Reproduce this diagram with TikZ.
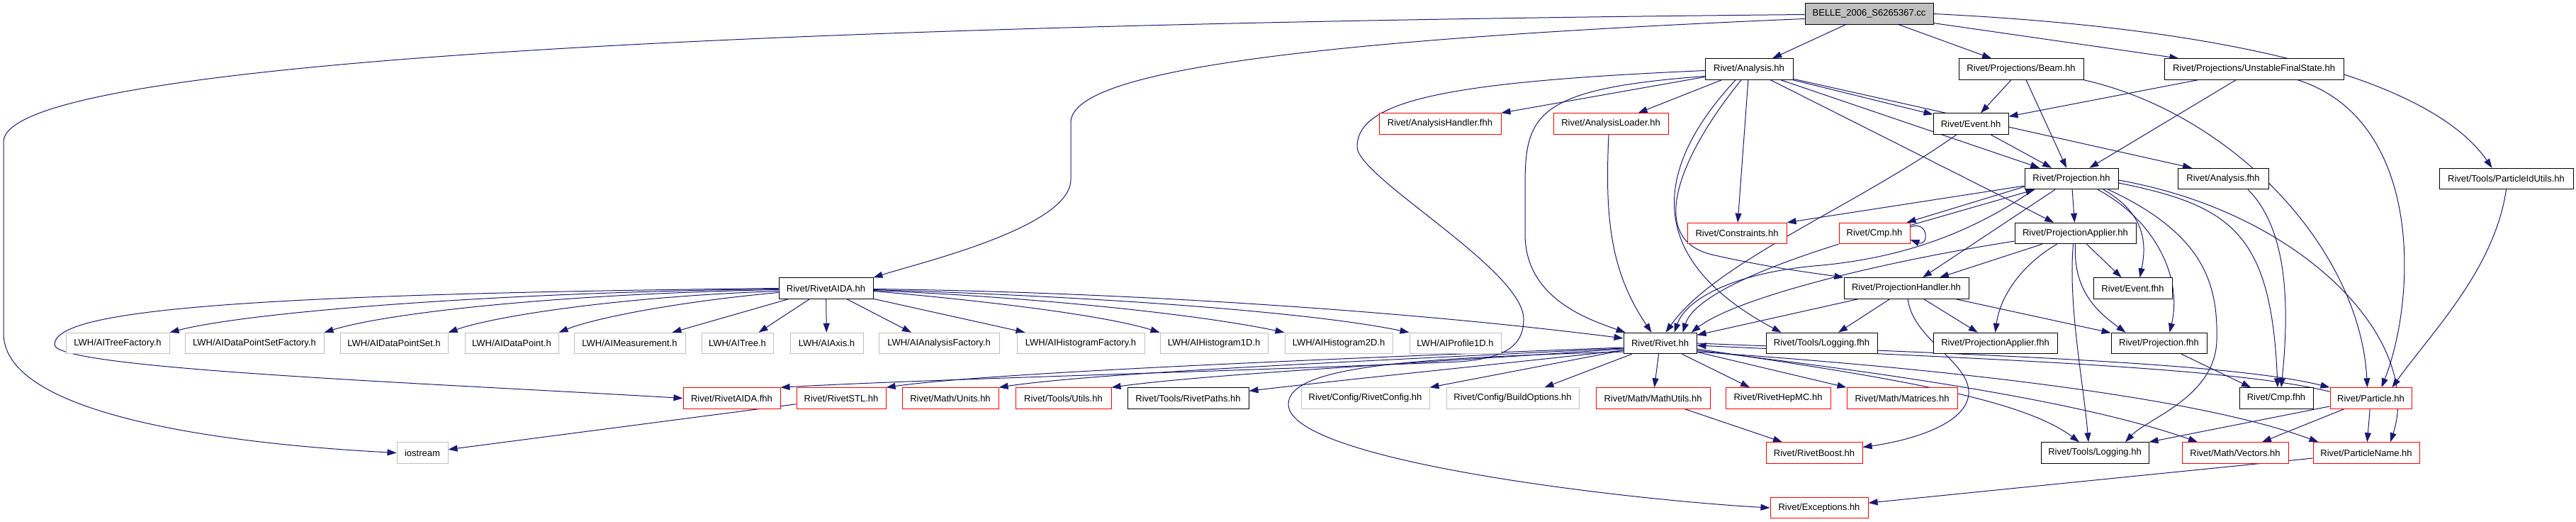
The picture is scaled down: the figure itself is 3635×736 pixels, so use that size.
\documentclass[tikz,border=0pt]{standalone}
\usepackage{fontspec}
\setmainfont{Liberation Sans}
\usepackage{xcolor}
\usepackage{tikz}
\usetikzlibrary{arrows.meta,calc}

\definecolor{incblue}{RGB}{25,25,112}
\definecolor{extgrey}{RGB}{191,191,191}
\pgfdeclarelayer{edges}
\pgfsetlayers{edges,main}

\tikzset{
  filebox/.style={draw=black,line width=1pt,fill=white,minimum height=29.5pt,inner sep=0pt,font=\fontsize{13}{15}\selectfont},
  redbox/.style={filebox,draw=red},
  extbox/.style={filebox,draw=extgrey},
  inc/.style={draw=incblue,line width=1pt,-{Triangle[length=13pt,width=9pt]}}
}

\begin{document}
\begin{tikzpicture}[x=1pt,y=1pt,yscale=-1,xscale=1]
\useasboundingbox (0,0) rectangle (3635,736);

% Source file
\node[filebox,fill=extgrey,minimum width=181pt] (belle) at (2637.5,19.5) {BELLE\_2006\_S6265367.cc};
% Row 1
\node[filebox,minimum width=124pt] (analysis) at (2468,97.5) {Rivet/Analysis.hh};
\node[filebox,minimum width=176pt] (beam) at (2852,97.5) {Rivet/Projections/Beam.hh};
\node[filebox,minimum width=253pt] (ufs) at (3180.5,97.5) {Rivet/Projections/UnstableFinalState.hh};
% Row 2
\node[redbox,minimum width=172pt] (anhandler) at (2032,174.5) {Rivet/AnalysisHandler.fhh};
\node[redbox,minimum width=162pt] (anloader) at (2273,174.5) {Rivet/AnalysisLoader.hh};
\node[filebox,minimum width=106pt] (event) at (2781,174.5) {Rivet/Event.hh};
% Row 3
\node[filebox,minimum width=132pt] (projection) at (2923,252) {Rivet/Projection.hh};
\node[filebox,minimum width=128pt] (analysisf) at (3137,252) {Rivet/Analysis.fhh};
\node[filebox,minimum width=189pt] (pidutils) at (3536.5,252) {Rivet/Tools/ParticleIdUtils.hh};
% Row 4
\node[redbox,minimum width=140pt] (constraints) at (2451,329) {Rivet/Constraints.hh};
\node[redbox,minimum width=100pt] (cmp) at (2645,329) {Rivet/Cmp.hh};
\node[filebox,minimum width=171pt] (projapplier) at (2928.5,329) {Rivet/ProjectionApplier.hh};
% Row 5
\node[filebox,minimum width=133pt] (aidahh) at (1165.5,406.5) {Rivet/RivetAIDA.hh};
\node[filebox,minimum width=176pt] (projhandler) at (2690,406.5) {Rivet/ProjectionHandler.hh};
\node[filebox,minimum width=111pt] (eventf) at (3009.5,406.5) {Rivet/Event.fhh};
% Row 6
\node[extbox,minimum width=146pt] (lwhtf) at (166,484) {LWH/AITreeFactory.h};
\node[extbox,minimum width=196pt] (lwhdpsf) at (359,484) {LWH/AIDataPointSetFactory.h};
\node[extbox,minimum width=152pt] (lwhdps) at (556,484) {LWH/AIDataPointSet.h};
\node[extbox,minimum width=132pt] (lwhdp) at (722,484) {LWH/AIDataPoint.h};
\node[extbox,minimum width=157pt] (lwhmeas) at (888.5,484) {LWH/AIMeasurement.h};
\node[extbox,minimum width=101pt] (lwhtree) at (1040.5,484) {LWH/AITree.h};
\node[extbox,minimum width=103pt] (lwhaxis) at (1166.5,484) {LWH/AIAxis.h};
\node[extbox,minimum width=170pt] (lwhaf) at (1325,484) {LWH/AIAnalysisFactory.h};
\node[extbox,minimum width=180pt] (lwhhf) at (1525,484) {LWH/AIHistogramFactory.h};
\node[extbox,minimum width=152pt] (lwhh1) at (1713,484) {LWH/AIHistogram1D.h};
\node[extbox,minimum width=152pt] (lwhh2) at (1889,484) {LWH/AIHistogram2D.h};
\node[extbox,minimum width=129pt] (lwhp1) at (2053.5,484) {LWH/AIProfile1D.h};
\node[filebox,minimum width=103pt] (rivet) at (2342.5,484) {Rivet/Rivet.hh};
\node[filebox,minimum width=157pt] (loggingf) at (2570.5,484) {Rivet/Tools/Logging.fhh};
\node[filebox,minimum width=175pt] (projapplierf) at (2815.5,484) {Rivet/ProjectionApplier.fhh};
\node[filebox,minimum width=135pt] (projectionf) at (3046.5,484) {Rivet/Projection.fhh};
% Row 7
\node[redbox,minimum width=137pt] (aidafhh) at (1032.5,561.5) {Rivet/RivetAIDA.fhh};
\node[redbox,minimum width=126pt] (rivstl) at (1187,561.5) {Rivet/RivetSTL.hh};
\node[redbox,minimum width=136pt] (units) at (1341,561.5) {Rivet/Math/Units.hh};
\node[redbox,minimum width=135pt] (utils) at (1500.5,561.5) {Rivet/Tools/Utils.hh};
\node[filebox,minimum width=171pt] (rivpaths) at (1676.5,561.5) {Rivet/Tools/RivetPaths.hh};
\node[extbox,minimum width=181pt] (rivconfig) at (1926.5,561.5) {Rivet/Config/RivetConfig.hh};
\node[extbox,minimum width=187pt] (buildopt) at (2134.5,561.5) {Rivet/Config/BuildOptions.hh};
\node[redbox,minimum width=161pt] (mathutils) at (2332.5,561.5) {Rivet/Math/MathUtils.hh};
\node[redbox,minimum width=148pt] (hepmc) at (2509,561.5) {Rivet/RivetHepMC.hh};
\node[redbox,minimum width=156pt] (matrices) at (2684,561.5) {Rivet/Math/Matrices.hh};
\node[filebox,minimum width=104pt] (cmpf) at (3212,561.5) {Rivet/Cmp.fhh};
\node[redbox,minimum width=115pt] (particle) at (3345.5,561.5) {Rivet/Particle.hh};
% Row 8
\node[extbox,minimum width=72pt] (iostream) at (596,638.5) {iostream};
\node[redbox,minimum width=136pt] (rivboost) at (2560,638.5) {Rivet/RivetBoost.hh};
\node[filebox,minimum width=152pt] (logging) at (2956,638.5) {Rivet/Tools/Logging.hh};
\node[redbox,minimum width=150pt] (vectors) at (3154,638.5) {Rivet/Math/Vectors.hh};
\node[redbox,minimum width=150pt] (pname) at (3339,638.5) {Rivet/ParticleName.hh};
% Row 9
\node[redbox,minimum width=138pt] (exceptions) at (2567,716) {Rivet/Exceptions.hh};

\begin{pgfonlayer}{edges}
\fill[white] (0,0) rectangle (3635,736);
% BELLE_2006_S6265367.cc
\draw[inc] (belle) -- (analysis);
\draw[inc] (belle) -- (beam);
\draw[inc] (belle) -- (ufs);
\draw[inc] (belle.east) .. controls (3250,45) and (3450,140) .. ($(pidutils.north)+(-20,0)$);
\draw[inc] ($(belle.west)+(0,7)$) .. controls (1750,60) and (1511,110) .. (1511,173) -- (1511,253) .. controls (1511,320) and (1300,370) .. (aidahh.north east);
\draw[inc] ($(belle.west)+(0,1)$) .. controls (1000,35) and (5,90) .. (5,200) -- (5,470) .. controls (5,600) and (400,630) .. (iostream.west);
% Rivet/Analysis.hh
\draw[inc] (analysis) -- (anhandler);
\draw[inc] (analysis) -- (anloader);
\draw[inc] (analysis) -- (event);
\draw[inc] (analysis) -- (projection);
\draw[inc] (analysis) -- ($(analysisf.north)+(-44,0)$);
\draw[inc] (analysis) -- (constraints);
\draw[inc] (analysis) -- (projapplier);
\draw[inc] ($(analysis.south)+(-11,0)$) .. controls (2370,220) and (2320,340) .. (2420,360) .. controls (2500,378) and (2560,385) .. (projhandler.north west);
\draw[inc] ($(analysis.south)+(-19,0)$) .. controls (2340,230) and (2310,360) .. ($(loggingf.north west)+(22,0)$);
\draw[inc] ($(analysis.west)+(0,10)$) .. controls (2170,125) and (2152,160) .. (2152,260) -- (2152,330) .. controls (2152,420) and (2240,450) .. ($(rivet.north west)+(3,0)$);
\draw[inc] ($(analysis.west)+(0,2)$) .. controls (2050,115) and (1915,140) .. (1915,207) .. controls (1915,250) and (2150,380) .. (2150,450) .. controls (2150,490) and (2120,505) .. (2060,510) .. controls (1700,525) and (1300,535) .. (aidafhh.north east);
% Rivet/Projections/Beam.hh
\draw[inc] (beam) -- (event);
\draw[inc] (beam) -- (projection);
\draw[inc] (beam.south east) .. controls (3150,160) and (3330,350) .. ($(particle.north)+(-5,0)$);
% Rivet/Projections/UnstableFinalState.hh
\draw[inc] (ufs) -- (event);
\draw[inc] (ufs) -- (projection);
\draw[inc] ($(ufs.south)+(62,0)$) .. controls (3420,170) and (3410,420) .. ($(particle.north)+(15,0)$);
% Rivet/Tools/ParticleIdUtils.hh
\draw[inc] (pidutils.south) .. controls (3520,380) and (3430,470) .. ($(particle.north)+(30,0)$);
% Rivet/AnalysisLoader.hh
\draw[inc] ($(anloader.south)+(-3,0)$) .. controls (2265,300) and (2270,380) .. ($(rivet.north)+(-12,0)$);
% Rivet/Event.hh
\draw[inc] (event) -- (projection);
\draw[inc] ($(event.south)+(-20,0)$) .. controls (2620,290) and (2420,370) .. ($(rivet.north)+(8,0)$);
% Rivet/Projection.hh
\draw[inc] ($(projection.west)+(0,10)$) -- (constraints.north east);
\draw[inc] ($(projection.south west)+(0,-4)$) -- ($(cmp.north east)+(-5,0)$);
\draw[inc] (projection) -- (projapplier);
\draw[inc] (projection) -- (projhandler);
\draw[inc] ($(projection.south)+(-53,0)$) .. controls (2780,330) and (2680,365) .. (2560,375) .. controls (2450,385) and (2380,420) .. ($(rivet.north)+(20,0)$);
\draw[inc] ($(projection.south)+(37,0)$) .. controls (3040,310) and (3080,390) .. ($(projectionf.north)+(15,0)$);
\draw[inc] ($(projection.south)+(45,0)$) .. controls (3025,300) and (3030,340) .. ($(eventf.north)+(10,0)$);
\draw[inc] ($(projection.south)+(52,0)$) .. controls (3110,330) and (3130,400) .. (3128,480) .. controls (3126,560) and (3030,590) .. ($(logging.north)+(43,0)$);
\draw[inc] ($(projection.east)+(0,6)$) .. controls (3150,290) and (3205,330) .. ($(cmpf.north)+(2,0)$);
\draw[inc] ($(projection.east)+(0,2)$) .. controls (3250,300) and (3420,480) .. ($(pname.north)+(34,0)$);
% Rivet/Cmp.hh
\draw[inc] ($(cmp.north east)+(0,4)$) -- ($(projection.south west)+(15,0)$);
\draw[inc] (cmp.10) .. controls (2722,310) and (2722,348) .. (cmp.-10);
\draw[inc] (cmp.south west) .. controls (2480,380) and (2390,420) .. ($(rivet.north)+(32,0)$);
% Rivet/Analysis.fhh
\draw[inc] ($(analysisf.south)+(35,0)$) .. controls (3225,320) and (3232,420) .. ($(cmpf.north)+(7,0)$);
% Rivet/ProjectionApplier.hh
\draw[inc] (projapplier) -- (projhandler);
\draw[inc] (projapplier) -- (eventf);
\draw[inc] ($(projapplier.west)+(0,11)$) .. controls (2650,370) and (2450,420) .. ($(rivet.north)+(44,0)$);
\draw[inc] ($(projapplier.south)+(-26,0)$) .. controls (2850,375) and (2822,420) .. (projapplierf.north);
\draw[inc] ($(projapplier.south)+(-3,0)$) .. controls (2918,430) and (2940,540) .. ($(logging.north)+(-9,0)$);
\draw[inc] (projapplier.south) .. controls (2925,410) and (2960,440) .. ($(projectionf.north)+(-47,0)$);
% Rivet/ProjectionHandler.hh
\draw[inc] (projhandler) -- (rivet);
\draw[inc] (projhandler) -- (loggingf);
\draw[inc] (projhandler) -- (projapplierf);
\draw[inc] (projhandler) -- (projectionf);
\draw[inc] ($(projhandler.south)+(2,0)$) .. controls (2700,480) and (2780,510) .. (2778,555) .. controls (2775,600) and (2690,622) .. ($(rivboost.east)+(0,-8)$);
% Rivet/Projection.fhh
\draw[inc] (projectionf) -- ($(cmpf.north)+(-36,0)$);
% Rivet/RivetAIDA.hh
\draw[inc] ($(aidahh.west)+(0,1)$) .. controls (700,412) and (350,440) .. (lwhtf.north east);
\draw[inc] ($(aidahh.west)+(0,2)$) .. controls (800,414) and (550,440) .. (lwhdpsf.north east);
\draw[inc] ($(aidahh.west)+(0,4)$) .. controls (880,418) and (700,445) .. (lwhdps.north east);
\draw[inc] ($(aidahh.west)+(0,6)$) .. controls (960,425) and (840,448) .. (lwhdp.north east);
\draw[inc] (aidahh) -- ($(lwhmeas.north)+(60,0)$);
\draw[inc] (aidahh) -- ($(lwhtree.north)+(30,0)$);
\draw[inc] (aidahh) -- (lwhaxis);
\draw[inc] (aidahh) -- ($(lwhaf.north)+(-39,0)$);
\draw[inc] (aidahh) -- ($(lwhhf.north west)+(12,0)$);
\draw[inc] ($(aidahh.east)+(0,4)$) .. controls (1400,425) and (1560,445) .. (lwhh1.north west);
\draw[inc] ($(aidahh.east)+(0,3)$) .. controls (1480,420) and (1700,445) .. (lwhh2.north west);
\draw[inc] ($(aidahh.east)+(0,2)$) .. controls (1550,418) and (1850,440) .. (lwhp1.north west);
\draw[inc] ($(aidahh.east)+(0,1)$) .. controls (1600,412) and (2000,440) .. ($(rivet.west)+(0,-7)$);
\draw[inc] (aidahh.west) .. controls (300,415) and (77,440) .. (77,486) .. controls (77,520) and (600,540) .. (aidafhh.west);
% Rivet/Rivet.hh
\draw[inc] ($(rivet.west)+(0,6)$) .. controls (1900,505) and (1400,525) .. (rivstl.north east);
\draw[inc] ($(rivet.west)+(0,7)$) .. controls (1950,508) and (1550,525) .. (units.north east);
\draw[inc] ($(rivet.west)+(0,8)$) .. controls (2000,512) and (1700,528) .. (utils.north east);
\draw[inc] ($(rivet.west)+(0,10)$) .. controls (2100,515) and (1900,535) .. ($(rivpaths.north east)+(0,5)$);
\draw[inc] ($(rivet.west)+(0,12)$) .. controls (2000,505) and (1818,515) .. (1818,570) .. controls (1818,650) and (2300,705) .. (exceptions.west);
\draw[inc] (rivet) -- (rivconfig.north east);
\draw[inc] (rivet) -- ($(buildopt.north)+(45,0)$);
\draw[inc] (rivet) -- (mathutils);
\draw[inc] (rivet) -- ($(hepmc.north)+(-40,0)$);
\draw[inc] (rivet) -- (matrices.north west);
\draw[inc] ($(rivet.east)+(0,8)$) .. controls (2650,530) and (2850,560) .. ($(logging.north)+(-22,0)$);
\draw[inc] ($(rivet.east)+(0,10)$) .. controls (2700,530) and (2950,570) .. ($(vectors.north)+(-53,0)$);
\draw[inc] ($(rivet.east)+(0,12)$) .. controls (2750,520) and (3100,560) .. ($(pname.north west)+(8,0)$);
\draw[inc] (rivet.east) .. controls (2800,500) and (3150,512) .. (particle.north west);
% Rivet/Particle.hh
\draw[inc] ($(particle.north west)+(0,6)$) .. controls (3150,518) and (2800,506) .. ($(rivet.east)+(0,3)$);
\draw[inc] (particle) -- (logging.north east);
\draw[inc] (particle) -- ($(vectors.north)+(38,0)$);
\draw[inc] (particle) -- (pname);
% remaining includes
\draw[inc] (pname) -- (exceptions);
\draw[inc] (mathutils) -- (rivboost);
\draw[inc] (rivstl) -- (iostream);
\end{pgfonlayer}
\end{tikzpicture}
\end{document}
